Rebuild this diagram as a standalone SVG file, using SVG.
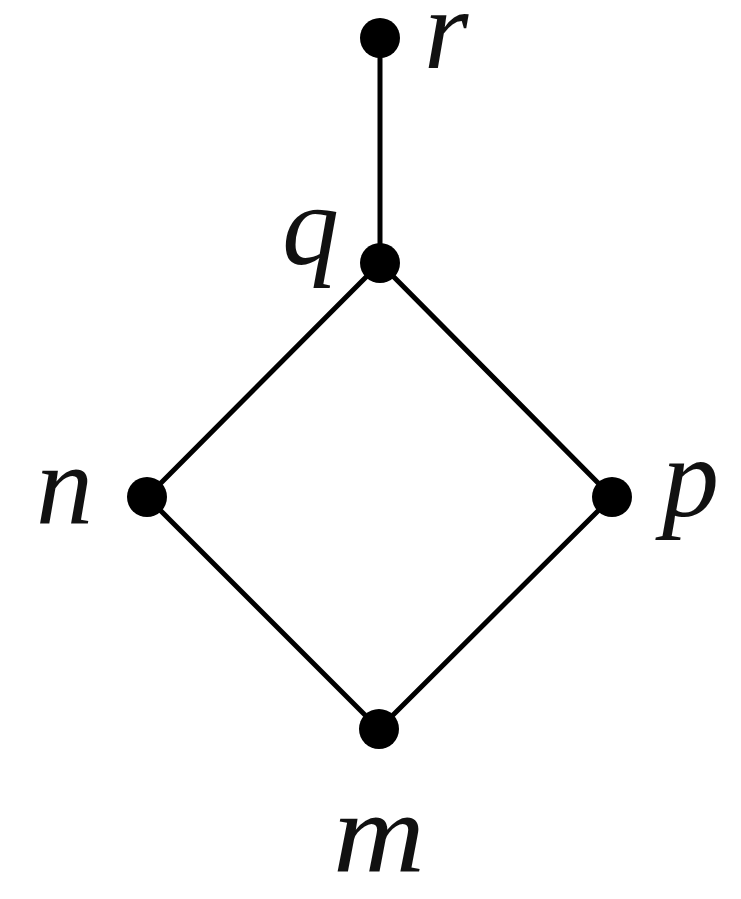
<svg xmlns="http://www.w3.org/2000/svg" width="741" height="899" viewBox="0 0 741 899">
<style>
.edge{stroke:#000;stroke-width:5;stroke-linecap:round}
.dot{fill:#000}
.lbl{font-family:"Liberation Serif","Times New Roman",serif;font-style:italic;font-size:114px;fill:#111}
</style>
<rect width="741" height="899" fill="#fff"/>
<g id="connectors">
<line class="edge" x1="380" y1="38" x2="380" y2="263"/>
<line class="edge" x1="380" y1="263" x2="147" y2="497"/>
<line class="edge" x1="380" y1="263" x2="612" y2="497"/>
<line class="edge" x1="147" y1="497" x2="379" y2="729"/>
<line class="edge" x1="612" y1="497" x2="379" y2="729"/>
</g>
<g id="node-r"><circle class="dot" cx="380" cy="38" r="20"/><text class="lbl" x="424" y="68">r</text></g>
<g id="node-q"><circle class="dot" cx="380" cy="263" r="20"/><text class="lbl" x="282" y="264">q</text></g>
<g id="node-n"><circle class="dot" cx="147" cy="497" r="20"/><text class="lbl" x="36" y="524">n</text></g>
<g id="node-p"><circle class="dot" cx="612" cy="497" r="20"/><text class="lbl" x="662" y="516">p</text></g>
<g id="node-m"><circle class="dot" cx="379" cy="729" r="20"/><text class="lbl" x="333" y="871" textLength="92" lengthAdjust="spacingAndGlyphs">m</text></g>
</svg>
